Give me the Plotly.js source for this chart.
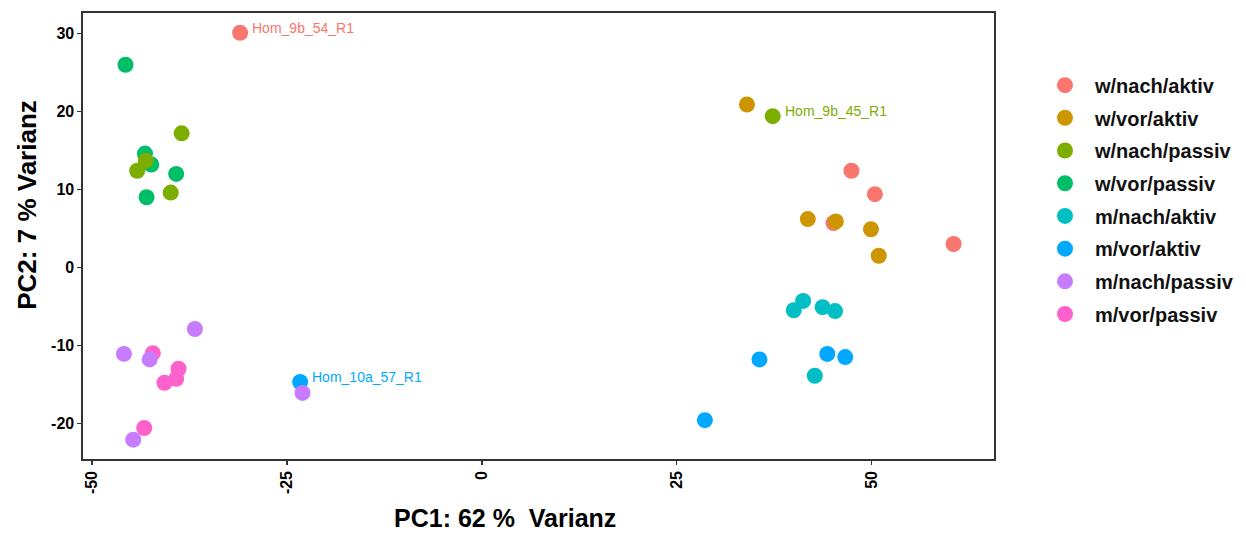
<!DOCTYPE html>
<html>
<head>
<meta charset="utf-8">
<script src="https://cdn.plot.ly/plotly-3.0.1.min.js"></script>
<style>html,body{margin:0;padding:0;background:#fff;}#chart{width:1246px;height:533px;}</style>
</head>
<body>
<div id="chart"></div>
<script>
// Group names (legend order)
const groups = ["w/nach/aktiv","w/vor/aktiv","w/nach/passiv","w/vor/passiv","m/nach/aktiv","m/vor/aktiv","m/nach/passiv","m/vor/passiv"];
const colors = ["#F8766D","#CD9600","#7CAE00","#00BE67","#00BFC4","#00A9FF","#C77CFF","#FF61CC"];

// PC1 / PC2 values per group
const wNachAktivX = [-31.0, 47.4, 50.4, 45.1, 60.5];
const wNachAktivY = [30.1, 12.4, 9.4, 5.7, 3.0];
const wVorAktivX = [34.0, 41.8, 45.4, 49.9, 50.9];
const wVorAktivY = [20.9, 6.2, 5.9, 4.9, 1.5];
const wNachPassivX = [37.3, -38.5, -43.1, -44.2, -39.9];
const wNachPassivY = [19.4, 17.2, 13.7, 12.4, 9.6];
const wVorPassivX = [-45.7, -43.2, -42.4, -39.2, -43.0];
const wVorPassivY = [26.0, 14.6, 13.2, 12.0, 9.0];
const mNachAktivX = [41.2, 40.0, 43.7, 45.3, 42.7];
const mNachAktivY = [-4.3, -5.5, -5.1, -5.6, -13.9];
const mVorAktivX = [-23.3, 35.6, 44.3, 46.6, 28.6];
const mVorAktivY = [-14.7, -11.8, -11.1, -11.5, -19.6];
const mNachPassivX = [-36.8, -45.9, -42.6, -44.7, -23.0];
const mNachPassivY = [-7.9, -11.1, -11.8, -22.1, -16.1];
const mVorPassivX = [-42.2, -38.9, -39.2, -40.7, -43.3];
const mVorPassivY = [-11.0, -13.0, -14.3, -14.8, -20.6];

const seriesX = [wNachAktivX, wVorAktivX, wNachPassivX, wVorPassivX, mNachAktivX, mVorAktivX, mNachPassivX, mVorPassivX];
const seriesY = [wNachAktivY, wVorAktivY, wNachPassivY, wVorPassivY, mNachAktivY, mVorAktivY, mNachPassivY, mVorPassivY];

// Sample labels: text, group index, point index
const labelTexts = ["Hom_9b_54_R1", "Hom_9b_45_R1", "Hom_10a_57_R1"];
const labelSeries = [0, 2, 5];
const labelIndex = [0, 0, 0];

const xTicks = [-50, -25, 0, 25, 50];
const yTicks = [-20, -10, 0, 10, 20, 30];

// drawing order (later on top)
const drawOrder = [0, 1, 3, 2, 4, 5, 7, 6];

const traces = drawOrder.map(i => ({
  type: "scatter", mode: "markers", name: groups[i],
  x: seriesX[i], y: seriesY[i],
  legendrank: i + 1,
  legendgroup: "g" + i,
  marker: {color: colors[i], size: 16, line: {width: 0}},
  hoverinfo: "skip"
}));

const annotations = labelTexts.map((t, k) => ({
  x: seriesX[labelSeries[k]][labelIndex[k]],
  y: seriesY[labelSeries[k]][labelIndex[k]],
  xref: "x", yref: "y", text: t, showarrow: false,
  xanchor: "left", yanchor: "middle", xshift: 10, yshift: 5,
  font: {family: "Liberation Sans, Arial, sans-serif", size: 14, color: colors[labelSeries[k]]}
}));

annotations.push({
  xref: "paper", yref: "paper", x: 0.463, y: -0.133, xanchor: "center", yanchor: "middle",
  showarrow: false, text: "<b>PC1: 62 %\u00a0 Varianz</b>",
  font: {family: "Liberation Sans, Arial, sans-serif", size: 25, color: "#000"}
});
annotations.push({
  xref: "paper", yref: "paper", x: -0.061, y: 0.571, xanchor: "center", yanchor: "middle",
  showarrow: false, textangle: -90, text: "<b>PC2: 7 % Varianz</b>",
  font: {family: "Liberation Sans, Arial, sans-serif", size: 26, color: "#000"}
});

const axisCommon = {
  showgrid: false, zeroline: false, showline: true, mirror: true,
  linecolor: "#333", linewidth: 1.6,
  ticks: "outside", ticklen: 4, tickwidth: 1.4, tickcolor: "#333",
  tickfont: {family: "Liberation Sans, Arial, sans-serif", size: 16, color: "#000", weight: "bold"}
};

const layout = {
  width: 1246, height: 533,
  margin: {l: 83, r: 252, t: 13, b: 74, autoexpand: false},
  paper_bgcolor: "#fff", plot_bgcolor: "#fff",
  xaxis: Object.assign({}, axisCommon, {range: [-51.15, 65.68], tickvals: xTicks, ticktext: xTicks.map(String), tickangle: -90, automargin: false}),
  yaxis: Object.assign({}, axisCommon, {range: [-24.58, 32.64], tickvals: yTicks, ticktext: yTicks.map(String), automargin: false}),
  showlegend: true,
  legend: {
    x: 1.045, xanchor: "left", y: 0.882, yanchor: "top",
    traceorder: "grouped", tracegroupgap: 3.7, itemwidth: 50,
    font: {family: "Liberation Sans, Arial, sans-serif", size: 20, color: "#111", weight: "bold"},
    bgcolor: "rgba(0,0,0,0)"
  },
  annotations: annotations
};

Plotly.newPlot("chart", traces, layout, {displayModeBar: false, staticPlot: true});
</script>
</body>
</html>
